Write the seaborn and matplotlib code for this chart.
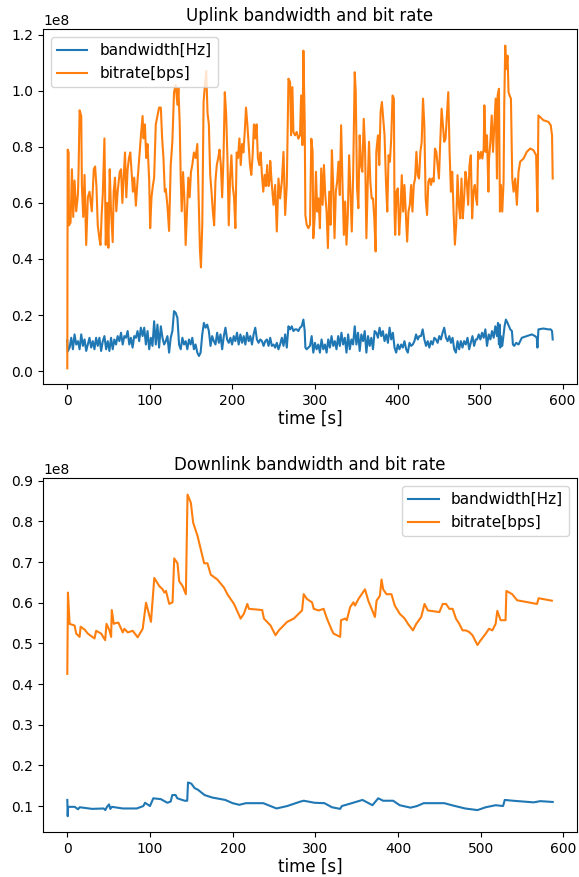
import numpy as np
import pandas as pd
import matplotlib
matplotlib.use("Agg")
import matplotlib.pyplot as plt
import seaborn as sns

SCALE = 1e8  # values below are given in units of 1e8

# ---------------- Uplink ----------------
up_bitrate_t = [0.0, 0.5, 1.6, 2.0, 4.0, 5.6, 7.2, 8.8, 10.8, 12.9, 13.7, 14.9, 16.9, 17.7, 19.3, 20.9, 22.9, 24.9, 26.9, 29.7,
                32.1, 33.7, 35.3, 36.9, 39.0, 40.2, 41.8, 43.0, 45.0, 46.6, 48.2, 49.8, 51.4, 53.0, 55.0, 56.2, 57.8, 59.4, 61.0, 63.5,
                65.1, 66.7, 68.3, 69.9, 71.5, 73.1, 74.7, 76.3, 77.9, 79.5, 81.1, 83.1, 85.1, 87.1, 89.2, 91.2, 92.4, 94.0, 95.6, 97.2,
                99.2, 100.4, 102.0, 103.6, 105.2, 107.2, 109.2, 111.2, 113.3, 114.9, 116.5, 118.1,
                119.3, 121.3, 123.3, 125.3, 127.3, 129.3, 131.3, 133.4, 134.6, 136.2, 137.4, 138.6, 140.2, 141.8, 143.4, 145.0, 146.6,
                148.2, 149.8, 151.4, 153.4, 155.4, 157.5, 159.5, 160.7, 161.9, 163.5, 165.1, 166.7, 168.3, 169.9, 171.5, 173.1, 174.7,
                176.3, 177.9, 179.5, 181.1, 182.8, 184.4, 186.0, 187.6, 189.2, 190.8, 192.4, 194.0, 195.6, 197.2, 198.8, 200.4, 202.0,
                203.6, 205.2, 206.8, 208.5, 210.1, 211.7, 213.3, 214.9, 216.5, 218.1, 219.7, 221.3, 222.9, 224.5, 226.1, 227.7, 229.3,
                230.9, 232.6, 234.2, 235.8, 237.4, 239.0, 240.6, 242.2, 243.8, 245.4,
                245.8, 247.8, 249.8, 251.8, 253.8, 255.8, 257.8, 259.9, 261.9, 263.9, 265.9, 267.9, 269.9, 271.1, 272.7, 273.9, 275.9,
                277.9, 279.9, 281.9, 283.2, 284.8, 286.0, 287.6, 288.4, 290.0, 292.0, 294.0, 295.6, 297.2, 298.0, 299.6, 301.2, 302.8,
                304.4, 306.0, 307.6, 309.3, 310.9, 312.5, 314.1, 315.7, 317.3, 318.9, 320.5, 322.1, 323.7, 325.3, 326.9, 328.5, 330.1,
                331.7, 333.3, 335.0, 336.6, 338.2, 339.8, 341.4, 343.0, 344.6, 346.2, 348.2, 349.4, 351.0, 352.6, 354.2, 355.8, 357.4,
                359.1, 360.7, 362.3, 363.9, 365.5, 367.1, 368.7, 370.3, 371.9, 373.5,
                374.3, 376.3, 377.9, 379.5, 381.1, 382.7, 384.3, 386.0, 387.6, 389.2, 390.8, 392.4, 394.0, 395.6, 396.4, 397.2, 398.8,
                400.4, 402.0, 403.6, 405.2, 406.8, 408.4, 410.0, 411.7, 413.3, 414.9, 416.5, 418.1, 419.7, 421.3, 422.9, 424.5, 426.1,
                427.7, 429.3, 430.9, 432.5, 434.1, 435.8, 437.4, 439.0, 440.6, 442.2, 443.8, 445.4, 447.0, 448.6, 450.2, 451.8, 453.4,
                455.0, 456.6, 458.2, 459.9, 461.5, 463.1, 464.7, 466.3, 467.9, 469.5, 471.1, 472.7, 474.3, 475.9, 477.5, 479.1, 480.7,
                482.3, 483.9, 485.6, 487.2, 488.8, 490.4, 492.0, 493.6, 495.2,
                496.4, 497.6, 499.6, 501.2, 502.8, 504.4, 505.2, 506.8, 508.4, 510.1, 510.9, 512.5, 514.1, 515.7, 517.3, 518.9, 520.5,
                521.3, 522.9, 524.1, 525.3, 526.9, 528.5, 529.3, 530.5, 531.7, 533.3, 534.5, 535.8, 537.4, 539.0, 540.6, 542.6, 544.6,
                546.6, 548.6, 552.6, 556.6, 560.7, 564.7, 567.9, 569.5, 570.7, 576.7, 582.7, 585.6, 587.2, 588.0]
up_bitrate = [0.01, 0.79, 0.78, 0.52, 0.53, 0.72, 0.55, 0.68, 0.57, 0.63, 0.72, 0.93, 0.91, 0.66, 0.55, 0.70, 0.45, 0.62, 0.64, 0.57,
              0.72, 0.73, 0.66, 0.52, 0.47, 0.45, 0.57, 0.63, 0.83, 0.45, 0.60, 0.44, 0.72, 0.57, 0.46, 0.64, 0.69, 0.57, 0.64, 0.71,
              0.72, 0.60, 0.69, 0.78, 0.62, 0.72, 0.76, 0.78, 0.71, 0.64, 0.69, 0.59, 0.68, 0.76, 0.84, 0.91, 0.83, 0.88, 0.76, 0.81,
              0.68, 0.51, 0.62, 0.66, 0.69, 0.88, 0.91, 0.94, 0.94, 0.83, 0.76, 0.64,
              0.65, 0.59, 0.50, 0.735, 0.82, 0.995, 1.02, 0.95, 1.01, 0.88, 0.69, 0.57, 0.71, 0.62, 0.45, 0.57, 0.69,
              0.62, 0.71, 0.735, 0.78, 0.76, 0.81, 0.57, 0.43, 0.37, 0.52, 0.96, 1.02, 1.07, 0.92, 0.88, 0.70, 0.64,
              0.57, 0.52, 0.68, 0.735, 0.76, 0.79, 0.735, 0.62, 0.76, 0.995, 0.92, 0.76, 0.52, 0.69, 0.77, 0.66, 0.62,
              0.51, 0.78, 0.76, 0.83, 0.735, 0.81, 0.78, 0.85, 0.94, 0.88, 0.81, 0.735, 0.70, 0.77, 0.88, 0.83, 0.88,
              0.76, 0.735, 0.78, 0.70, 0.64, 0.70, 0.66, 0.735, 0.66, 0.69,
              0.75, 0.664, 0.593, 0.664, 0.498, 0.687, 0.616, 0.676, 0.782, 0.557, 0.664, 1.043, 1.031, 0.841, 1.013, 0.853, 0.841,
              0.853, 0.829, 0.841, 0.983, 0.806, 1.143, 0.889, 0.557, 0.522, 0.510, 0.522, 0.829, 0.782, 0.474, 0.545, 0.711, 0.569,
              0.616, 0.510, 0.723, 0.593, 0.735, 0.628, 0.569, 0.439, 0.640, 0.522, 0.788, 0.664, 0.474, 0.640, 0.676, 0.747, 0.628,
              0.877, 0.676, 0.486, 0.605, 0.451, 0.557, 0.770, 0.640, 0.498, 0.687, 1.066, 0.995, 0.652, 0.581, 0.841, 0.735, 0.711,
              0.900, 0.794, 0.474, 0.664, 0.818, 0.676, 0.616, 0.616, 0.545, 0.427,
              0.782, 0.841, 0.735, 0.924, 0.960, 0.900, 0.841, 0.676, 0.569, 0.770, 0.747, 0.829, 0.983, 0.972, 0.569, 0.486, 0.640,
              0.652, 0.486, 0.569, 0.699, 0.569, 0.664, 0.569, 0.462, 0.569, 0.593, 0.664, 0.569, 0.664, 0.687, 0.782, 0.699, 0.687,
              0.782, 0.818, 0.972, 0.877, 0.616, 0.557, 0.676, 0.687, 0.664, 0.687, 0.676, 0.794, 0.782, 0.735, 0.687, 0.818, 0.936,
              0.877, 0.818, 0.829, 0.912, 0.995, 0.782, 0.640, 0.711, 0.569, 0.451, 0.522, 0.699, 0.593, 0.545, 0.687, 0.545, 0.616,
              0.711, 0.676, 0.593, 0.735, 0.770, 0.545, 0.640, 0.664, 0.616,
              0.593, 0.782, 0.758, 0.782, 0.758, 0.794, 0.948, 0.782, 0.841, 0.640, 0.758, 0.818, 0.912, 0.782, 0.877, 0.972, 0.687,
              0.983, 1.007, 0.569, 0.664, 0.569, 0.676, 0.948, 1.161, 1.078, 1.125, 0.995, 0.983, 0.972, 0.687, 0.640, 0.687, 0.593,
              0.711, 0.747, 0.758, 0.782, 0.794, 0.788, 0.770, 0.569, 0.912, 0.895, 0.889, 0.877, 0.841, 0.687]

up_bandwidth_t = [0.0, 0.5, 2.8, 4.8, 6.8, 8.8, 10.8, 12.9, 14.9, 16.9, 18.9, 20.9, 22.9, 24.9, 26.9, 28.9, 30.9, 32.9, 34.9, 36.9,
                  38.9, 41.0, 43.0, 45.0, 47.0, 49.0, 51.0, 53.0, 55.0, 57.0, 59.0, 61.0, 63.1, 65.1, 67.1, 69.1, 71.1, 73.1, 75.1,
                  77.1, 79.1, 81.1, 83.1, 85.1, 87.1, 89.1, 91.2, 93.2, 95.2, 97.2, 99.2, 101.2, 103.2, 105.2, 107.2, 109.2, 111.2,
                  113.3, 115.3, 117.3,
                  119.3, 121.3, 123.3, 125.3, 127.3, 129.3, 131.3, 133.4, 135.4, 137.4, 139.4, 141.4, 143.4, 145.4, 147.4, 149.4, 151.4,
                  153.4, 155.4, 157.5, 159.5, 161.5, 163.5, 165.5, 167.5, 169.5, 171.5, 173.5, 175.5, 177.5, 179.5, 181.5, 183.6, 185.6,
                  187.6, 189.6, 191.6, 193.6, 195.6, 197.6, 199.6, 201.6, 203.6, 205.6, 207.6, 209.7, 211.7, 213.7, 215.7, 217.7, 219.7,
                  221.7, 223.7, 225.7, 227.7, 229.7, 231.7, 233.8, 235.8, 237.8, 239.8, 241.8, 243.8,
                  245.8, 247.8, 249.8, 251.8, 253.8, 255.8, 257.8, 259.9, 261.9, 263.9, 265.9, 267.9, 269.9, 271.9, 273.9, 275.9, 277.9,
                  279.9, 281.9, 283.9, 286.0, 287.6, 288.4, 290.0, 292.0, 294.0, 296.0, 298.0, 300.0, 302.0, 304.0, 306.0, 308.0, 310.1,
                  312.1, 314.1, 316.1, 318.1, 320.1, 322.1, 324.1, 326.1, 328.1, 330.1, 332.1, 334.1, 336.2, 338.2, 340.2, 342.2, 344.2,
                  346.2, 348.2, 350.2, 352.2, 354.2, 356.2, 358.3, 360.3, 362.3, 364.3, 366.3, 368.3, 370.3, 372.3,
                  374.3, 376.3, 378.3, 380.3, 382.3, 384.3, 386.4, 388.4, 390.4, 392.4, 394.4, 396.4, 398.4, 400.4, 402.4, 404.4, 406.4,
                  408.4, 410.5, 412.5, 414.5, 416.5, 418.5, 420.5, 422.5, 424.5, 426.5, 428.5, 430.5, 432.5, 434.6, 436.6, 438.6, 440.6,
                  442.6, 444.6, 446.6, 448.6, 450.6, 452.6, 454.6, 456.6, 458.7, 460.7, 462.7, 464.7, 466.7, 468.7, 470.7, 472.7, 474.7,
                  476.7, 478.7, 480.7, 482.7, 484.8, 486.8, 488.8, 490.8, 492.8, 494.8,
                  496.4, 498.4, 500.4, 502.4, 504.4, 506.4, 508.4, 510.5, 512.5, 514.5, 516.5, 518.5, 520.5, 521.7, 522.9, 523.7, 524.5,
                  525.3, 526.9, 528.5, 529.7, 531.3, 533.3, 535.0, 536.6, 538.6, 539.8, 541.4, 543.8, 546.6, 550.6, 556.6, 562.7, 566.7,
                  568.7, 569.5, 570.7, 576.7, 582.7, 585.6, 587.2, 588.0]
up_bandwidth = [0.11, 0.07, 0.084, 0.119, 0.078, 0.131, 0.095, 0.107, 0.078, 0.131, 0.090, 0.113, 0.072, 0.095, 0.119, 0.084, 0.107,
                0.078, 0.119, 0.090, 0.119, 0.072, 0.107, 0.125, 0.078, 0.107, 0.072, 0.119, 0.078, 0.113, 0.095, 0.125, 0.107, 0.137,
                0.095, 0.125, 0.119, 0.143, 0.095, 0.119, 0.084, 0.125, 0.119, 0.143, 0.107, 0.155, 0.125, 0.155, 0.095, 0.143, 0.078,
                0.119, 0.090, 0.178, 0.095, 0.166, 0.084, 0.160, 0.119, 0.095,
                0.107, 0.125, 0.066, 0.119, 0.143, 0.214, 0.208, 0.190, 0.095, 0.078, 0.119, 0.095, 0.107, 0.078, 0.113, 0.095, 0.119,
                0.078, 0.095, 0.066, 0.054, 0.066, 0.131, 0.172, 0.155, 0.166, 0.143, 0.090, 0.125, 0.107, 0.095, 0.137, 0.101, 0.131,
                0.078, 0.125, 0.155, 0.113, 0.101, 0.119, 0.095, 0.125, 0.107, 0.137, 0.095, 0.131, 0.101, 0.125, 0.095, 0.137, 0.107,
                0.125, 0.095, 0.131, 0.155, 0.113, 0.101, 0.113, 0.107, 0.090, 0.107, 0.113, 0.090,
                0.119, 0.090, 0.095, 0.084, 0.101, 0.078, 0.095, 0.119, 0.090, 0.131, 0.084, 0.160, 0.149, 0.160, 0.143, 0.149, 0.149,
                0.143, 0.155, 0.160, 0.184, 0.143, 0.084, 0.078, 0.084, 0.090, 0.125, 0.066, 0.101, 0.078, 0.095, 0.066, 0.113, 0.078,
                0.095, 0.066, 0.113, 0.084, 0.125, 0.090, 0.107, 0.078, 0.125, 0.090, 0.137, 0.095, 0.119, 0.066, 0.131, 0.078, 0.113,
                0.095, 0.160, 0.095, 0.137, 0.072, 0.131, 0.107, 0.143, 0.066, 0.125, 0.090, 0.119, 0.078, 0.143,
                0.137, 0.119, 0.155, 0.125, 0.143, 0.107, 0.131, 0.101, 0.155, 0.113, 0.137, 0.084, 0.066, 0.095, 0.078, 0.095, 0.084,
                0.107, 0.078, 0.066, 0.101, 0.090, 0.095, 0.107, 0.131, 0.113, 0.125, 0.125, 0.149, 0.113, 0.090, 0.107, 0.084, 0.107,
                0.095, 0.119, 0.113, 0.101, 0.125, 0.113, 0.137, 0.155, 0.119, 0.107, 0.125, 0.101, 0.119, 0.078, 0.066, 0.107, 0.078,
                0.107, 0.084, 0.107, 0.095, 0.119, 0.078, 0.101, 0.125, 0.090, 0.113,
                0.113, 0.131, 0.113, 0.137, 0.119, 0.149, 0.090, 0.131, 0.113, 0.143, 0.119, 0.160, 0.125, 0.172, 0.095, 0.166, 0.084,
                0.125, 0.090, 0.131, 0.160, 0.184, 0.172, 0.160, 0.149, 0.143, 0.095, 0.090, 0.101, 0.095, 0.119, 0.125, 0.131, 0.125,
                0.119, 0.084, 0.149, 0.152, 0.149, 0.149, 0.143, 0.113]

# ---------------- Downlink ----------------
down_bitrate_t = [0.0, 0.8, 2.8, 8.8, 10.8, 14.9, 16.1, 20.9, 24.9, 32.9, 34.9, 41.0, 45.8, 47.4, 51.0, 53.0, 53.8, 56.2, 58.5, 61.8,
                  67.1, 69.1, 73.1, 79.1, 85.1, 91.2, 95.2, 101.2, 105.2, 111.2, 115.3, 117.3, 119.3, 123.3, 127.3, 129.3, 133.3,
                  135.3, 139.4, 143.4, 145.4, 149.4, 152.2, 157.4, 165.5, 169.5, 173.5, 181.5, 189.6, 193.6, 197.6, 201.6, 209.6,
                  213.6, 217.7, 219.7, 235.7, 237.8, 245.8, 251.8, 255.8, 265.9, 273.9, 283.9, 285.9,
                  289.9, 296.0, 298.0, 304.0, 310.0, 314.0, 320.0, 322.0, 326.0, 330.0, 331.0, 336.0, 338.0, 342.0, 346.0, 348.0,
                  352.0, 356.0, 360.0, 364.0, 368.0, 372.0, 374.0, 378.0, 380.0, 382.0, 386.0, 392.0, 396.0, 402.0, 408.0, 412.0,
                  418.0, 422.0, 428.0, 432.0, 436.0, 450.0, 454.0, 458.0, 462.0, 466.0, 470.0, 474.0, 478.0, 482.0, 486.0, 490.0,
                  496.0, 500.0, 506.0, 510.0, 514.0, 518.0, 520.0, 524.0, 530.0, 531.0, 538.0, 544.0, 568.0, 570.0, 586.0]
down_bitrate = [0.425, 0.625, 0.548, 0.544, 0.524, 0.516, 0.541, 0.534, 0.524, 0.512, 0.531, 0.524, 0.508, 0.548, 0.532, 0.516, 0.582,
                0.548, 0.550, 0.551, 0.527, 0.536, 0.527, 0.531, 0.515, 0.536, 0.600, 0.553, 0.661, 0.641, 0.633, 0.625, 0.629,
                0.597, 0.601, 0.709, 0.697, 0.653, 0.641, 0.621, 0.866, 0.846, 0.797, 0.765, 0.697, 0.697, 0.669, 0.657, 0.637,
                0.621, 0.609, 0.597, 0.561, 0.573, 0.597, 0.585, 0.582, 0.561, 0.544, 0.520, 0.532, 0.553, 0.561, 0.581, 0.621,
                0.609, 0.601, 0.585, 0.581, 0.585, 0.561, 0.532, 0.524, 0.520, 0.516, 0.557, 0.561, 0.557, 0.589, 0.601, 0.593,
                0.609, 0.621, 0.633, 0.605, 0.585, 0.565, 0.605, 0.617, 0.657, 0.633, 0.621, 0.621, 0.593, 0.573, 0.561, 0.548,
                0.532, 0.548, 0.565, 0.597, 0.581, 0.577, 0.597, 0.597, 0.585, 0.585, 0.561, 0.548, 0.532, 0.532, 0.528, 0.520,
                0.496, 0.508, 0.524, 0.536, 0.532, 0.548, 0.580, 0.557, 0.557, 0.629, 0.621, 0.606, 0.597, 0.611, 0.605]

down_bandwidth_t = [0.0, 0.5, 1.0, 9.0, 13.0, 15.0, 30.0, 44.0, 46.0, 48.0, 50.5, 52.0, 54.0, 67.0, 84.0, 92.0, 94.0, 100.0, 104.0,
                    113.0, 121.0, 125.0, 127.0, 131.0, 133.0, 142.0, 145.0, 146.0, 150.0, 154.0, 158.0, 166.0, 175.0, 191.0,
                    200.0, 208.0, 216.0, 237.0, 253.0, 266.0, 282.0, 286.0, 299.0, 311.0, 320.0, 330.0, 332.0, 344.0, 357.0,
                    369.0, 376.0, 382.0, 394.0, 402.0, 415.0, 423.0, 431.0, 456.0, 465.0, 481.0, 496.0, 506.0, 518.0, 527.0,
                    529.0, 539.0, 564.0, 572.0, 587.0]
down_bandwidth = [0.115, 0.075, 0.098, 0.098, 0.092, 0.097, 0.093, 0.094, 0.090, 0.098, 0.104, 0.093, 0.098, 0.094, 0.094, 0.100,
                  0.108, 0.100, 0.119, 0.117, 0.108, 0.111, 0.127, 0.127, 0.119, 0.113, 0.113, 0.158, 0.155, 0.144, 0.140, 0.127,
                  0.121, 0.115, 0.107, 0.103, 0.107, 0.107, 0.094, 0.100, 0.111, 0.113, 0.108, 0.107, 0.097, 0.093, 0.100, 0.107,
                  0.115, 0.102, 0.119, 0.113, 0.113, 0.102, 0.096, 0.100, 0.107, 0.107, 0.102, 0.094, 0.090, 0.097, 0.102, 0.100,
                  0.115, 0.113, 0.109, 0.112, 0.110]

labels = ["bandwidth[Hz]", "bitrate[bps]"]
titles = ["Uplink bandwidth and bit rate", "Downlink bandwidth and bit rate"]
colors = ["#1f77b4", "#ff7f0e"]

fig = plt.figure(figsize=(5.79, 8.77), dpi=100)
ax1 = fig.add_axes([0.0743, 0.5616, 0.9222, 0.4048])
ax2 = fig.add_axes([0.0743, 0.0510, 0.9222, 0.4034])

def draw(ax, bw_t, bw, br_t, br, title, loc):
    sns.lineplot(x=np.array(bw_t), y=np.array(bw) * SCALE, ax=ax, color=colors[0], label=labels[0],
                 estimator=None, sort=False, linewidth=1.5)
    sns.lineplot(x=np.array(br_t), y=np.array(br) * SCALE, ax=ax, color=colors[1], label=labels[1],
                 estimator=None, sort=False, linewidth=1.5)
    ax.set_title(title, fontsize=12)
    ax.set_xlabel("time [s]", fontsize=12, labelpad=1)
    ax.set_ylabel("")
    ax.set_xticks([0, 100, 200, 300, 400, 500, 600])
    ax.ticklabel_format(axis="y", style="sci", scilimits=(8, 8))
    ax.legend(loc=loc, fontsize=11)

draw(ax1, up_bandwidth_t, up_bandwidth, up_bitrate_t, up_bitrate, titles[0], "upper left")
draw(ax2, down_bandwidth_t, down_bandwidth, down_bitrate_t, down_bitrate, titles[1], "upper right")

fig.savefig("out.png", dpi=100)
